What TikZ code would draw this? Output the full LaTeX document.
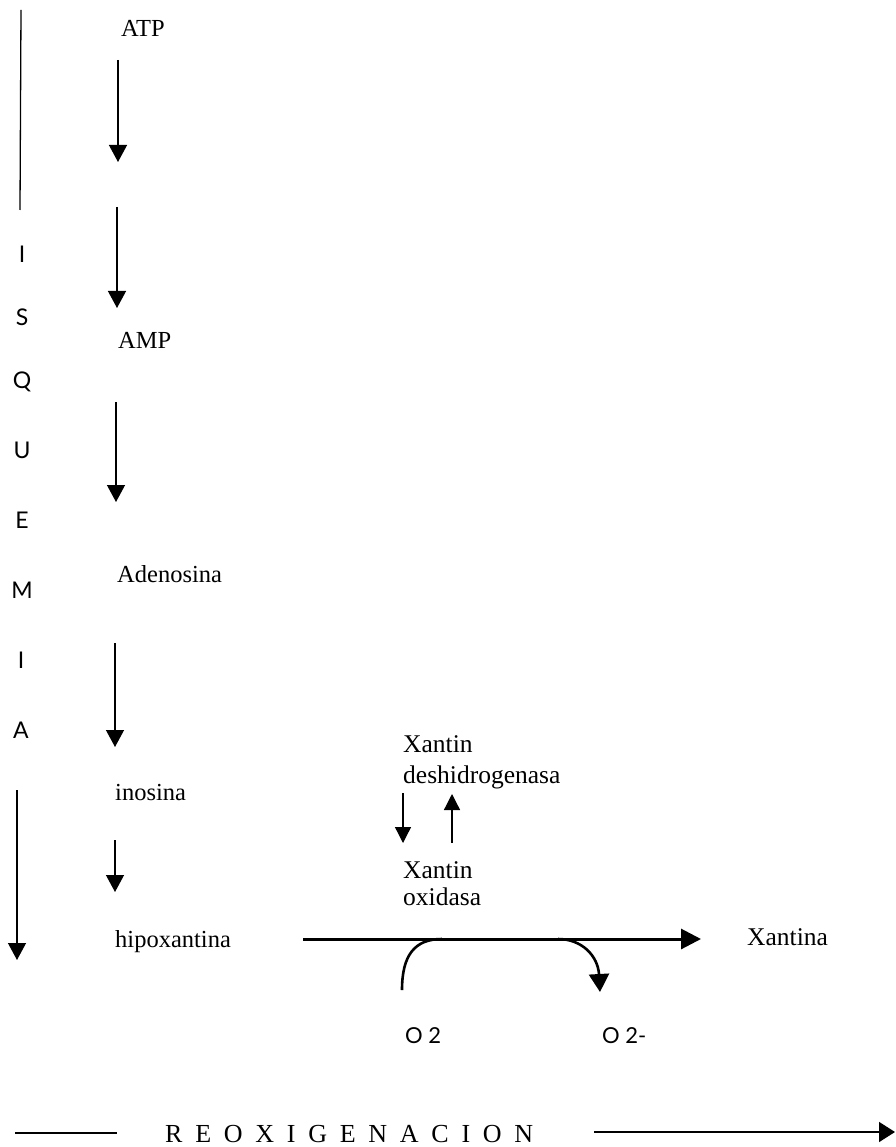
\documentclass[tikz,border=0pt]{standalone}
\usepackage{fontspec}
\setmainfont{Liberation Serif}
\newfontfamily\sidefont{Lato}
\usetikzlibrary{arrows.meta}
\begin{document}
\begin{tikzpicture}[x=1pt,y=-1pt,
  lbl/.style={inner sep=0pt,anchor=base west,font=\fontsize{24.5}{28}\selectfont},
  enz/.style={inner sep=0pt,anchor=base west,font=\fontsize{25.5}{30}\selectfont},
  side/.style={inner sep=0pt,font=\sidefont\fontsize{23}{26}\selectfont},
  oxy/.style={inner sep=0pt,anchor=base west,font=\sidefont\fontsize{22}{26}\selectfont},
  thinarr/.style={line width=1.3pt,-{Triangle[width=18pt,length=17pt]}},
  smallarr/.style={line width=1.3pt,-{Triangle[width=16pt,length=16pt]}},
  thickarr/.style={line width=3pt,-{Triangle[width=20pt,length=20pt]}},
  rxn/.style={line width=2.6pt}]
\useasboundingbox (0,0) rectangle (895,1147);
% left ISQUEMIA column
\coordinate (lt) at (21,10);
\coordinate (lb) at (20,210);
\draw[line width=1.3pt] (lt) -- (lb);
\node[side] (i1) at (22,254) {I};
\node[side] (s1) at (22,317) {S};
\node[side] (q1) at (22,382) {Q};
\node[side] (u1) at (22,450) {U};
\node[side] (e1) at (22,520) {E};
\node[side] (m1) at (22,590) {M};
\node[side] (i2) at (21,660) {I};
\node[side] (a1) at (21,730) {A};
\coordinate (la) at (17,790);
\coordinate (lz) at (17,960);
\draw[thinarr] (la) -- (lz);
% chain
\node[lbl] (atp) at (121,37) {ATP};
\node[lbl] (amp) at (118,348) {AMP};
\node[lbl] (ado) at (117,582) {Adenosina};
\node[lbl] (ino) at (115,800) {inosina};
\node[lbl] (hip) at (115,947) {hipoxantina};
\node[enz] (xan) at (747,945) {Xantina};
\coordinate (a1s) at (118,60);  \coordinate (a1e) at (118,162);
\coordinate (a2s) at (117,207); \coordinate (a2e) at (117,308);
\coordinate (a3s) at (116,402); \coordinate (a3e) at (116,502);
\coordinate (a4s) at (115,643); \coordinate (a4e) at (115,747);
\coordinate (a5s) at (115,840); \coordinate (a5e) at (115,892);
\draw[thinarr] (a1s) -- (a1e);
\draw[thinarr] (a2s) -- (a2e);
\draw[thinarr] (a3s) -- (a3e);
\draw[thinarr] (a4s) -- (a4e);
\draw[thinarr] (a5s) -- (a5e);
% enzymes
\node[enz] (xdh1) at (403,752) {Xantin};
\node[enz] (xdh2) at (403,783) {deshidrogenasa};
\node[enz] (xo1) at (403,878) {Xantin};
\node[enz] (xo2) at (403,905) {oxidasa};
\coordinate (d1) at (403,793); \coordinate (d2) at (403,843);
\coordinate (u1s) at (452,843); \coordinate (u1e) at (452,794);
\draw[smallarr] (d1) -- (d2);
\draw[smallarr] (u1s) -- (u1e);
% main reaction
\coordinate (ms) at (303,939);
\coordinate (me) at (701,939);
\draw[thickarr] (ms) -- (me);
\node[oxy] (o2) at (405,1043) {O 2};
\node[oxy] (o2m) at (602,1043) {O 2-};
\coordinate (cs) at (402,990);
\coordinate (cj) at (442,939);
\coordinate (ck) at (558,939);
\coordinate (ce) at (600,992);
\draw[rxn] (cs) .. controls (402,956) and (414,939) .. (cj);
\draw[rxn,-{Triangle[width=20pt,length=18pt]}] (ck) .. controls (582,939) and (598,956) .. (ce);
% reoxigenacion
\coordinate (r1) at (15,1133);
\coordinate (r2) at (117,1133);
\draw[line width=1.5pt] (r1) -- (r2);
\node[inner sep=0pt,anchor=base west,font=\fontsize{26}{30}\selectfont] (reox) at (165,1142)
  {\makebox[368pt][s]{R\hfill E\hfill O\hfill X\hfill I\hfill G\hfill E\hfill N\hfill A\hfill C\hfill I\hfill O\hfill N}};
\coordinate (r3) at (594,1132);
\coordinate (r4) at (895,1132);
\draw[line width=1.5pt,-{Triangle[width=20pt,length=16pt]}] (r3) -- (r4);
\end{tikzpicture}
\end{document}
